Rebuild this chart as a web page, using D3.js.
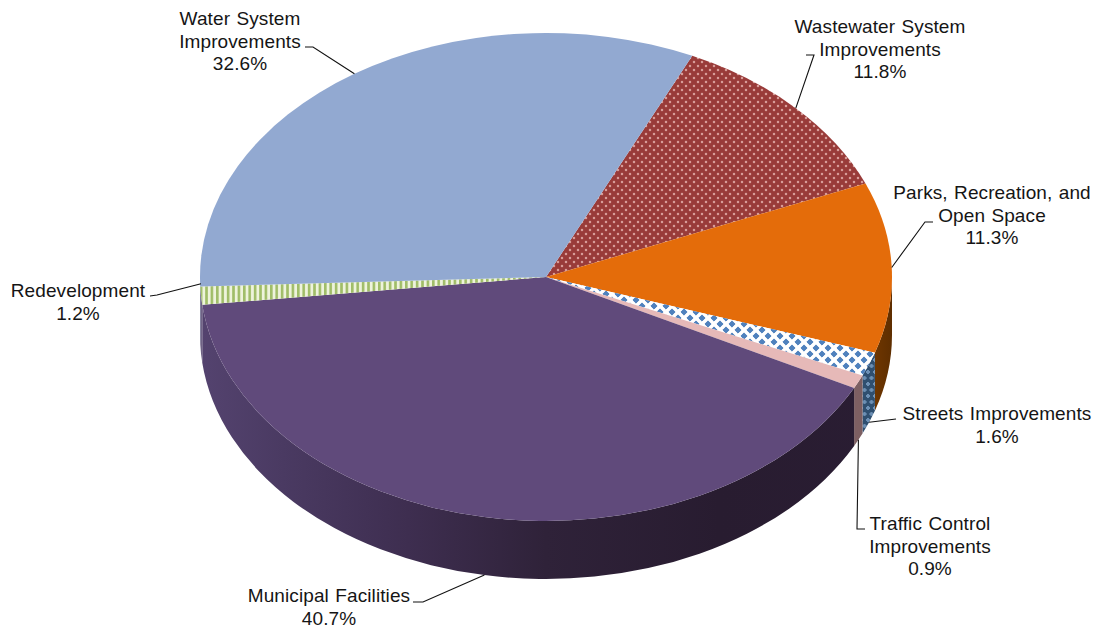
<!DOCTYPE html>
<html>
<head>
<meta charset="utf-8">
<script src="https://cdn.jsdelivr.net/npm/d3@7"></script>
<style>
  html, body { margin: 0; padding: 0; background: #fff; }
  svg { display: block; }
  text { font-family: "Liberation Sans", Arial, sans-serif; font-size: 19px; fill: #151515; letter-spacing: 0.1px; word-spacing: 1px; }
</style>
</head>
<body>
<svg id="chart" width="1097" height="628"></svg>
<script>
// Capital improvement shares, clockwise from the Wastewater slice.
const categories = [
  "Wastewater System Improvements",
  "Parks, Recreation, and Open Space",
  "Streets Improvements",
  "Traffic Control Improvements",
  "Municipal Facilities",
  "Redevelopment",
  "Water System Improvements"
];
const shares = [11.8, 11.3, 1.6, 0.9, 40.7, 1.2, 32.6];
const labelLines = [
  ["Wastewater System", "Improvements", "11.8%"],
  ["Parks, Recreation, and", "Open Space", "11.3%"],
  ["Streets Improvements", "1.6%"],
  ["Traffic Control", "Improvements", "0.9%"],
  ["Municipal Facilities", "40.7%"],
  ["Redevelopment", "1.2%"],
  ["Water System", "Improvements", "32.6%"]
];
const topFills = ["url(#dots)", "#E46C0A", "url(#diamonds)", "#E6B9B8", "#604A7B", "url(#stripes)", "#92A9D1"];
const wallFills = ["#6b2423", "url(#wallOrange)", "url(#wallDiamonds)", "#7d5f62", "url(#wallPurple)", "#6f6285", "#5d6f90"];

// Label block anchors: centre x and first baseline y, then the leader's elbow points.
const labelX = [880, 992, 997, 930, 329, 78, 240];
const labelY = [33, 199, 420, 530, 602, 297, 25];
const leaders = [
  [[814, 55], [806, 55]],
  [[925, 222], [933, 222]],
  [[896, 419]],
  [[857, 529], [865, 529]],
  [[423, 602], [413, 602]],
  [[157, 295], [150, 296]],
  [[313, 47], [305, 47]]
];
const leaderOnWall = [false, false, true, true, true, false, false];
const leaderDy = [0, 0, 0, 0, 0, -12, 0];

const cx = 546, cy = 277, rx = 346, ry = 244, depth = 58;
const startDeg = 25;
const svg = d3.select("#chart");
const defs = svg.append("defs");

// Hatches and shaded walls
const dots = defs.append("pattern").attr("id", "dots").attr("patternUnits", "userSpaceOnUse")
  .attr("width", 8).attr("height", 8);
dots.append("rect").attr("width", 8).attr("height", 8).attr("fill", "#993B39");
[[2, 2], [6, 6]].forEach(([x, y]) => dots.append("circle").attr("cx", x).attr("cy", y).attr("r", 1.25).attr("fill", "#d99c98"));

function diamondPattern(id, bg, fg, w, h, size) {
  const p = defs.append("pattern").attr("id", id).attr("patternUnits", "userSpaceOnUse")
    .attr("width", w).attr("height", h);
  p.append("rect").attr("width", w).attr("height", h).attr("fill", bg);
  const dia = (x, y) => `M${x - size},${y}L${x},${y - size}L${x + size},${y}L${x},${y + size}Z`;
  [[w / 2, h / 2], [0, 0], [w, 0], [0, h], [w, h]].forEach(([x, y]) =>
    p.append("path").attr("d", dia(x, y)).attr("fill", fg)
      .attr("stroke", fg).attr("stroke-width", 1).attr("stroke-linejoin", "round"));
}
diamondPattern("diamonds", "#ffffff", "#4f81bd", 12, 12, 3.1);
diamondPattern("wallDiamonds", "#2f4f70", "#6d90b5", 7, 12, 2);

const stripes = defs.append("pattern").attr("id", "stripes").attr("patternUnits", "userSpaceOnUse")
  .attr("width", 5.4).attr("height", 10);
stripes.append("rect").attr("width", 5.4).attr("height", 10).attr("fill", "#eef3dc");
stripes.append("rect").attr("width", 2.6).attr("height", 10).attr("fill", "#a0bd68");

const gradient = (id, x1, x2, stops) => {
  const g = defs.append("linearGradient").attr("id", id).attr("gradientUnits", "userSpaceOnUse")
    .attr("x1", x1).attr("x2", x2).attr("y1", 0).attr("y2", 0);
  stops.forEach(([o, c]) => g.append("stop").attr("offset", o).attr("stop-color", c));
};
gradient("wallPurple", cx - rx, cx + rx, [[0, "#54436f"], [0.12, "#4a3a62"], [0.3, "#3e2e50"], [0.5, "#2f2239"], [0.75, "#281c30"], [1, "#2a1d33"]]);
gradient("wallOrange", 870, 892, [[0, "#733800"], [1, "#5e2e00"]]);

// Slice angles
const pie = d3.pie().sort(null).value(d => d)
  .startAngle(startDeg * Math.PI / 180)
  .endAngle((startDeg + 360) * Math.PI / 180);
const slices = pie(shares);

const px = a => cx + rx * Math.sin(a);
const py = a => cy - ry * Math.cos(a);

function topPath(d) {
  const large = d.endAngle - d.startAngle > Math.PI ? 1 : 0;
  return `M${cx},${cy}L${px(d.startAngle)},${py(d.startAngle)}A${rx},${ry} 0 ${large} 1 ${px(d.endAngle)},${py(d.endAngle)}Z`;
}
function wallPath(d) {
  // Only the front half of the rim shows a wall.
  const frontStart = Math.PI / 2, frontEnd = 3 * Math.PI / 2;
  const spans = [[d.startAngle, d.endAngle], [d.startAngle - 2 * Math.PI, d.endAngle - 2 * Math.PI]];
  let out = "";
  spans.forEach(([s, e]) => {
    const a = Math.max(s, frontStart), b = Math.min(e, frontEnd);
    if (b <= a) return;
    out += `M${px(a)},${py(a)}A${rx},${ry} 0 0 1 ${px(b)},${py(b)}L${px(b)},${py(b) + depth}A${rx},${ry} 0 0 0 ${px(a)},${py(a) + depth}Z`;
  });
  return out;
}

svg.append("g").selectAll("path").data(slices).join("path")
  .attr("d", wallPath).attr("fill", (d, i) => wallFills[i]);

svg.append("g").selectAll("path").data(slices).join("path")
  .attr("d", topPath).attr("fill", (d, i) => topFills[i]);

// Leader lines run from the slice's mid-rim out to its label.
svg.append("g").selectAll("path").data(slices).join("path")
  .attr("fill", "none").attr("stroke", "#111").attr("stroke-width", 1.1)
  .attr("d", (d, i) => {
    const m = (d.startAngle + d.endAngle) / 2;
    const start = [px(m), py(m) + (leaderOnWall[i] ? depth : 0) + leaderDy[i]];
    return d3.line()([start, ...leaders[i]]);
  });

// Labels
const lh = 22.7;
const labels = svg.append("g").selectAll("text").data(labelLines).join("text")
  .attr("text-anchor", "middle");
labels.selectAll("tspan").data((d, i) => d.map((t, j) => ({ t, x: labelX[i], y: labelY[i] + j * lh })))
  .join("tspan").attr("x", d => d.x).attr("y", d => d.y).text(d => d.t);
</script>
</body>
</html>
